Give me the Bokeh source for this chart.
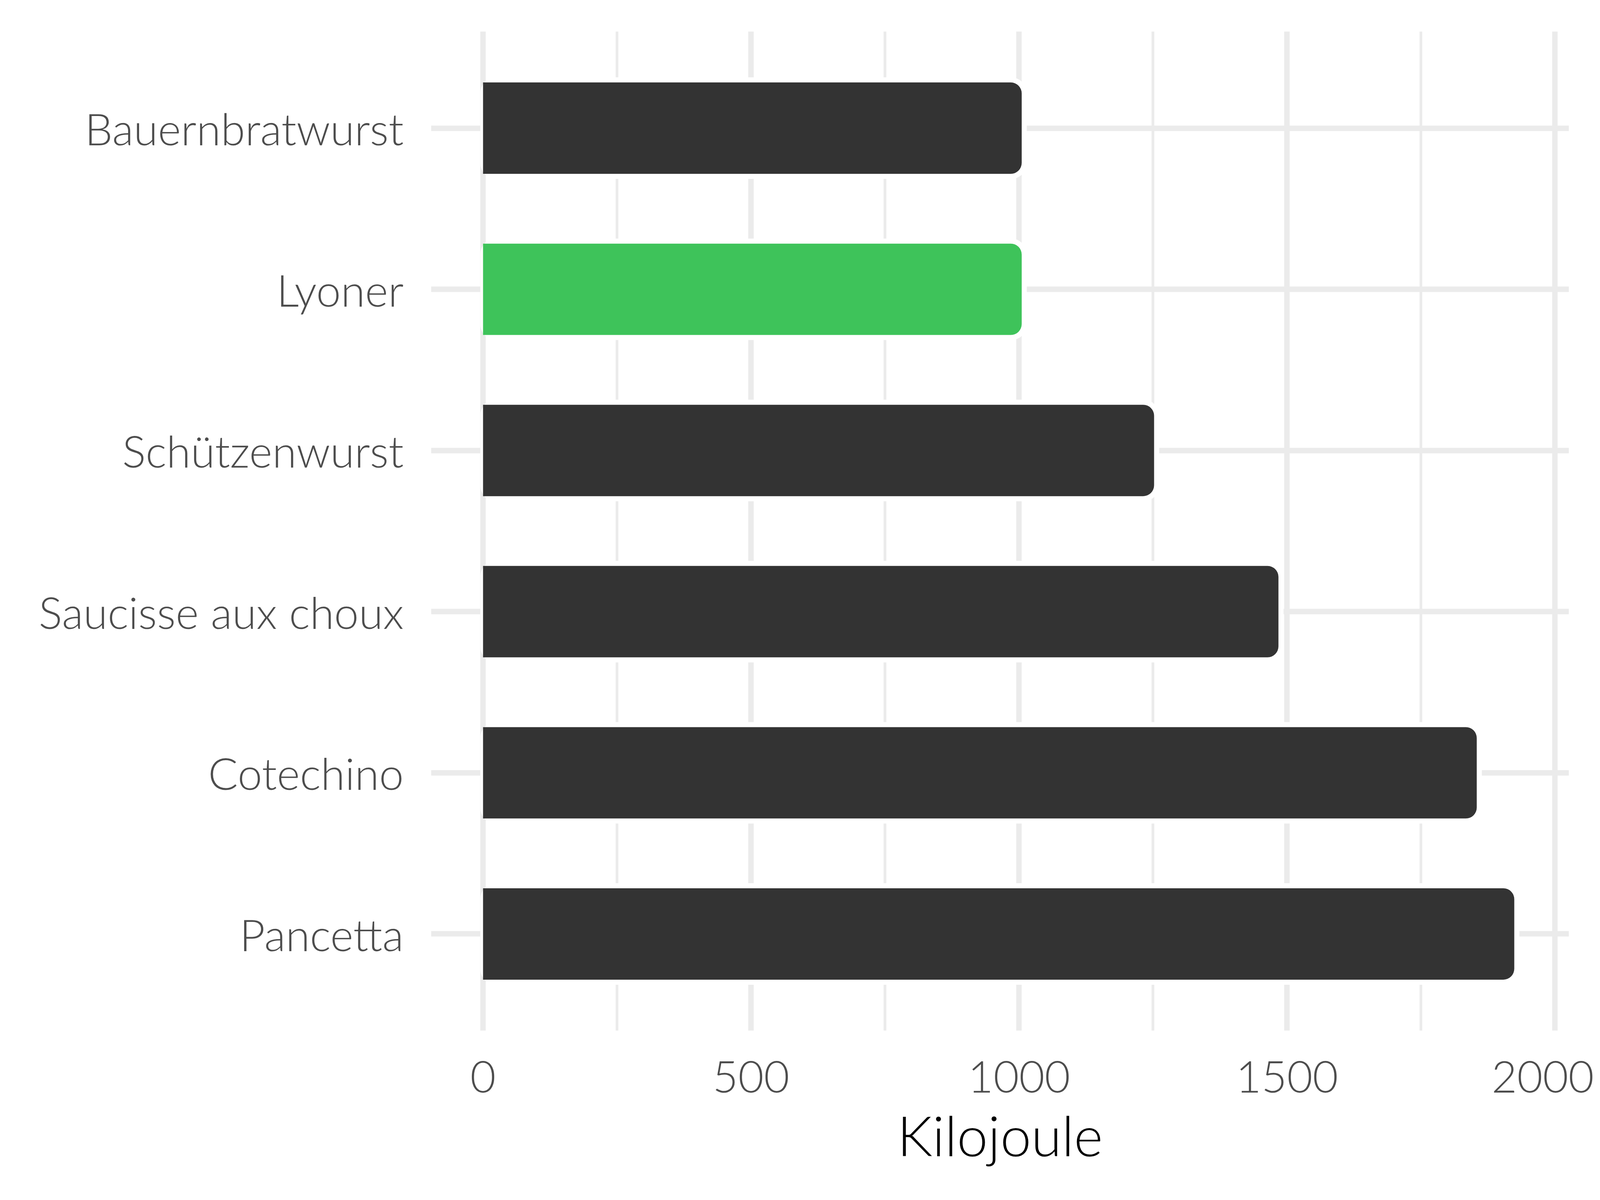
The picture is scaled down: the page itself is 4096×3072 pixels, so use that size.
from bokeh.plotting import figure
from bokeh.models import Range1d, FactorRange, FixedTicker, ColumnDataSource
from bokeh.embed import file_html
from bokeh.resources import INLINE

categories = ["Bauernbratwurst", "Lyoner", "Schützenwurst", "Saucisse aux choux", "Cotechino", "Pancetta"]
kilojoule = [1005, 1005, 1252, 1484, 1854, 1924]
bar_colors = ["#333333", "#3EC35A", "#333333", "#333333", "#333333", "#333333"]
x_ticks = [0, 500, 1000, 1500, 2000]
x_minor_ticks = [250, 750, 1250, 1750]
x_title = "Kilojoule"

FONT = "Lato Light, Lato"
GRID = "#EBEBEB"

src = ColumnDataSource(dict(
    cat=categories,
    val=kilojoule,
    halo_right=[v + 9.5 for v in kilojoule],
    color=bar_colors,
))

p = figure(
    width=4080, height=3056,
    output_backend="svg", toolbar_location=None,
    y_range=FactorRange(factors=categories[::-1], range_padding=0.1, range_padding_units="absolute"),
    x_range=Range1d(-97, 2026),
    min_border_left=1103, min_border_right=64, min_border_top=80, min_border_bottom=418,
)
p.outline_line_color = None
p.background_fill_color = "white"
p.border_fill_color = "white"

# white halo behind bars (cuts gridlines around bar ends)
p.hbar(y="cat", left=-5, right="halo_right", height=0.63, source=src,
       fill_color="white", line_color=None, border_radius=40)
# bars
p.hbar(y="cat", left=0, right="val", height=0.567, source=src,
       fill_color="color", line_color=None, border_radius=(0, 28, 28, 0))

# axes
p.xaxis.ticker = FixedTicker(ticks=x_ticks, minor_ticks=x_minor_ticks)
p.xaxis.axis_label = x_title
for ax in (p.xaxis[0], p.yaxis[0]):
    ax.axis_line_color = None
    ax.major_tick_line_color = None
    ax.minor_tick_line_color = None
    ax.major_tick_out = 0
    ax.major_tick_in = 0
    ax.minor_tick_out = 0
    ax.minor_tick_in = 0
    ax.major_label_text_font = FONT
    ax.major_label_text_font_size = "113px"
    ax.major_label_text_color = "#4D4D4D"

p.xaxis.major_label_standoff = 78
p.xaxis.axis_label_text_font = FONT
p.xaxis.axis_label_text_font_size = "142px"
p.xaxis.axis_label_text_font_style = "normal"
p.xaxis.axis_label_text_color = "#000000"
p.xaxis.axis_label_standoff = 20

p.yaxis.major_label_standoff = 70

# grids
p.xgrid.grid_line_color = GRID
p.xgrid.grid_line_width = 14
p.xgrid.minor_grid_line_color = GRID
p.xgrid.minor_grid_line_width = 7
p.ygrid.grid_line_color = GRID
p.ygrid.grid_line_width = 14

open("out.html", "w").write(file_html(p, INLINE))
